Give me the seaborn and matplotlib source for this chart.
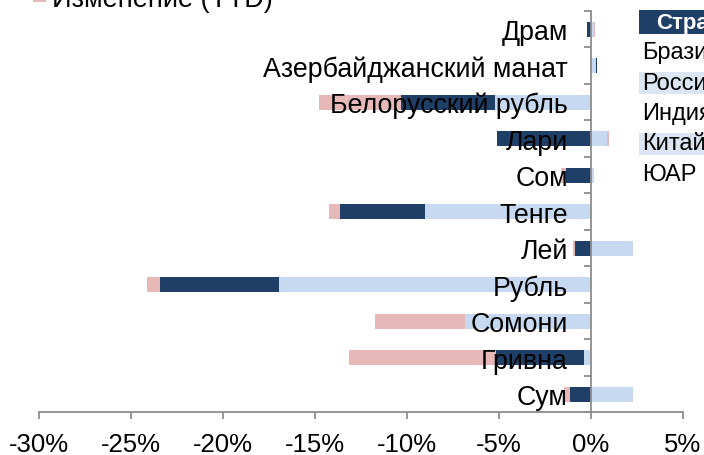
import numpy as np
import pandas as pd
import matplotlib
matplotlib.use("Agg")
import matplotlib.pyplot as plt
from matplotlib.patches import Rectangle
from matplotlib.ticker import FuncFormatter, FixedLocator
import seaborn as sns

# ---- data (percent changes) ----
categories = ['Драм', 'Азербайджанский манат', 'Белорусский рубль', 'Лари', 'Сом',
              'Тенге', 'Лей', 'Рубль', 'Сомони', 'Гривна', 'Сум']
seg_light = [0.18, 0.27, -5.20, 0.91, 0.18, -9.03, 2.30, -16.94, -6.81, -0.36, 2.30]
seg_dark = [-0.22, 0.09, -5.14, -5.08, -1.36, -4.59, -0.86, -6.50, 0.00, -4.80, -1.13]
seg_ytd = [0.05, 0.00, -4.45, 0.06, -0.27, -0.63, -0.11, -0.67, -4.90, -8.00, -0.33]
legend_label = 'Изменение (YTD)'
x_ticks = [-30, -25, -20, -15, -10, -5, 0, 5]
table_header = 'Страна'
table_rows = ['Бразилия', 'Россия', 'Индия', 'Китай', 'ЮАР']

# ---- style ----
sns.set_theme(style='white')
plt.rcParams['font.family'] = ['Liberation Sans', 'DejaVu Sans']
plt.rcParams['axes.unicode_minus'] = False

C_LIGHT = '#C6D9F1'
C_DARK = '#1F3F66'
C_PINK = '#E6B9B8'
C_AXIS = '#8C8C8C'
FS_TICK = 18.5
FS_CAT = 19.3

W, H = 704, 456
fig = plt.figure(figsize=(W / 100, H / 100), dpi=100)
x0, x1 = 39.0, 682.7
ytop, ybot = 11.8, 413.3
ax = fig.add_axes([x0 / W, (H - ybot) / H, (x1 - x0) / W, (ybot - ytop) / H])

# stacked by sign: compute stack ends, draw from the outermost inward
series = [('light', seg_light, C_LIGHT), ('dark', seg_dark, C_DARK), ('ytd', seg_ytd, C_PINK)]
pos = np.zeros(len(categories))
neg = np.zeros(len(categories))
ends = {}
for name, vals, col in series:
    v = np.asarray(vals, dtype=float)
    e = np.where(v >= 0, pos + v, neg + v)
    pos = np.where(v >= 0, pos + v, pos)
    neg = np.where(v < 0, neg + v, neg)
    ends[name] = e

for name, vals, col in reversed(series):
    df = pd.DataFrame({'cat': categories, 'val': ends[name]})
    sns.barplot(data=df, x='val', y='cat', order=categories, color=col,
                saturation=1, width=0.41, linewidth=0, errorbar=None, ax=ax)

ax.set_xlim(-30, 5)
ax.set_ylim(len(categories) - 0.5, -0.5)
ax.set_xlabel('')
ax.set_ylabel('')
for s in ['top', 'right']:
    ax.spines[s].set_visible(False)
ax.spines['left'].set_position(('data', 0))
for s in ['left', 'bottom']:
    ax.spines[s].set_color(C_AXIS)
    ax.spines[s].set_linewidth(1.3)

ax.xaxis.set_major_locator(FixedLocator(x_ticks))
ax.xaxis.set_major_formatter(FuncFormatter(lambda v, p: f'{v:.0f}%'))
ax.tick_params(axis='x', which='major', direction='out', length=5, width=1.3,
               color=C_AXIS, labelsize=FS_TICK, pad=9, labelcolor='black', bottom=True)

ax.yaxis.set_minor_locator(FixedLocator(np.arange(-0.5, len(categories), 1.0)))
ax.tick_params(axis='y', which='major', length=0, pad=16.5, labelsize=FS_CAT, labelcolor='black', left=True)
ax.tick_params(axis='y', which='minor', direction='out', length=5, width=1.3, color=C_AXIS, left=True)
ax.set_yticks(range(len(categories)))
ax.set_yticklabels(categories)
ax.set_axisbelow(False)
ax.grid(False)


def fx(px):
    return px / W


def fy(py):
    return (H - py) / H


# legend fragment (cut off at top)
fig.add_artist(Rectangle((fx(33), fy(3)), 13 / W, 13 / H, transform=fig.transFigure,
                         facecolor=C_PINK, edgecolor='none'))
fig.text(fx(52), fy(7), legend_label, fontsize=19.5, ha='left', va='baseline', color='black')

# table fragment on the right
fig.add_artist(Rectangle((fx(639), fy(35)), 80 / W, 24 / H, transform=fig.transFigure,
                         facecolor=C_DARK, edgecolor='none'))
fig.text(fx(656), fy(23), table_header, fontsize=16, fontweight='bold', color='white',
         ha='left', va='center')
row_centers = [53, 83.5, 114, 144.5, 175]
for i, (lab, yc) in enumerate(zip(table_rows, row_centers)):
    if i % 2 == 1:
        fig.add_artist(Rectangle((fx(639), fy(yc + 11)), 80 / W, 22 / H, transform=fig.transFigure,
                                 facecolor='#DCE6F2', edgecolor='none'))
    fig.text(fx(641.7), fy(yc), lab, fontsize=17, color='black', ha='left', va='center')

fig.savefig('out.png', dpi=100)
